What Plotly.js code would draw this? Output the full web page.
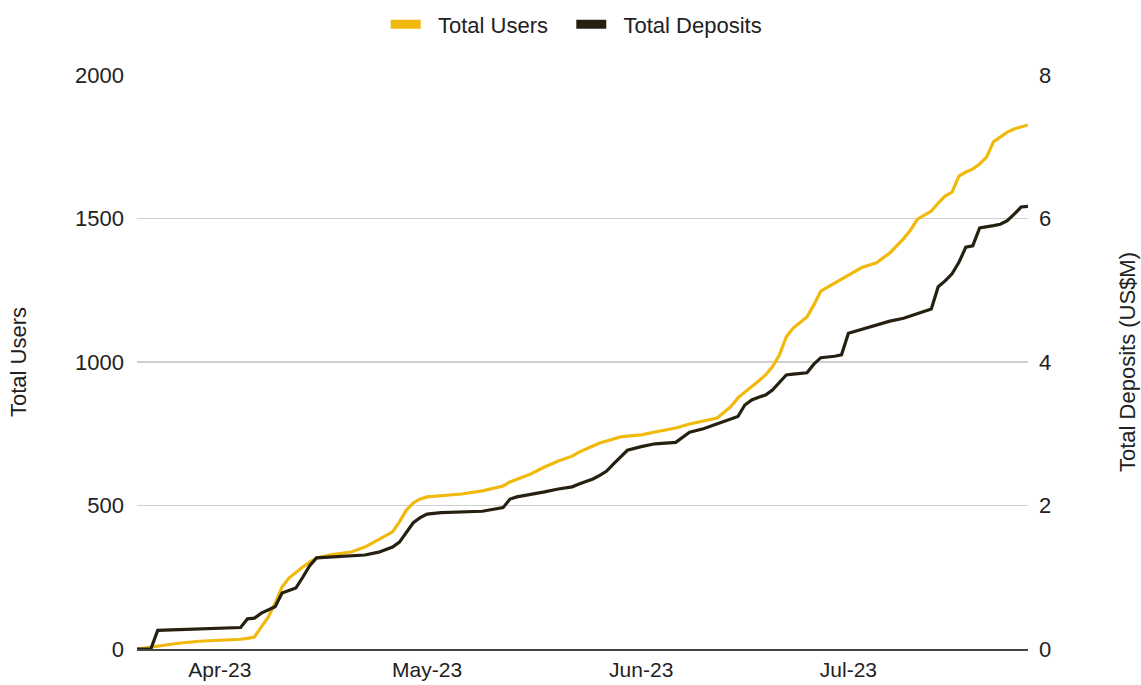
<!DOCTYPE html>
<html>
<head>
<meta charset="utf-8">
<script src="https://cdn.plot.ly/plotly-3.0.1.min.js"></script>
<style>html,body{margin:0;padding:0;background:#fff;}#chart{width:1141px;height:685px;}</style>
</head>
<body>
<div id="chart"></div>
<script>
const dates = ['2023-03-20','2023-03-22','2023-03-23','2023-03-26','2023-03-29','2023-04-01','2023-04-03','2023-04-04','2023-04-05','2023-04-06','2023-04-07','2023-04-08','2023-04-09','2023-04-10','2023-04-11','2023-04-12','2023-04-13','2023-04-14','2023-04-15','2023-04-17','2023-04-20','2023-04-22','2023-04-24','2023-04-26','2023-04-27','2023-04-28','2023-04-29','2023-04-30','2023-05-01','2023-05-03','2023-05-06','2023-05-09','2023-05-12','2023-05-13','2023-05-14','2023-05-16','2023-05-18','2023-05-20','2023-05-22','2023-05-23','2023-05-25','2023-05-26','2023-05-27','2023-05-28','2023-05-29','2023-05-30','2023-06-01','2023-06-03','2023-06-06','2023-06-08','2023-06-10','2023-06-12','2023-06-14','2023-06-15','2023-06-16','2023-06-17','2023-06-18','2023-06-19','2023-06-20','2023-06-21','2023-06-22','2023-06-23','2023-06-25','2023-06-26','2023-06-27','2023-06-29','2023-06-30','2023-07-01','2023-07-03','2023-07-05','2023-07-07','2023-07-09','2023-07-10','2023-07-11','2023-07-13','2023-07-14','2023-07-15','2023-07-16','2023-07-17','2023-07-18','2023-07-19','2023-07-20','2023-07-21','2023-07-22','2023-07-23','2023-07-24','2023-07-25','2023-07-26','2023-07-27'];

const totalUsers = [0,7,10,20,27,30,32,34,37,42,77,111,160,216,247,268,286,303,317,328,338,355,383,408,443,484,509,523,530,533,540,551,568,582,592,610,634,655,672,686,707,718,725,732,739,742,746,756,770,784,794,805,845,875,895,913,934,955,983,1024,1087,1118,1157,1199,1247,1275,1289,1303,1330,1345,1380,1430,1460,1498,1526,1554,1578,1592,1648,1662,1672,1690,1714,1767,1784,1801,1812,1819,1826];

const totalDeposits = [0,0,0.26,0.27,0.28,0.29,0.29,0.30,0.42,0.43,0.50,0.54,0.59,0.78,0.81,0.85,1.00,1.16,1.27,1.28,1.30,1.31,1.35,1.42,1.49,1.63,1.76,1.83,1.88,1.90,1.91,1.92,1.97,2.09,2.12,2.15,2.19,2.23,2.26,2.30,2.37,2.42,2.48,2.58,2.68,2.77,2.82,2.86,2.88,3.02,3.07,3.14,3.20,3.24,3.40,3.47,3.51,3.54,3.61,3.71,3.82,3.83,3.85,3.97,4.06,4.08,4.10,4.40,4.46,4.52,4.57,4.61,4.64,4.68,4.74,5.05,5.13,5.23,5.39,5.60,5.62,5.87,5.88,5.90,5.92,5.97,6.06,6.16,6.17];

const seriesNames = ['Total Users', 'Total Deposits'];
const userTicks = [0, 500, 1000, 1500, 2000];
const depositTicks = [0, 2, 4, 6, 8];

const YELLOW = '#F0B90B';
const DARK = '#262010';
const FONT = 'Liberation Sans, Arial, Helvetica, sans-serif';
const NB = '\u00A0';

const traces = [
  {x: dates, y: totalUsers, type: 'scatter', mode: 'lines', name: seriesNames[0],
   line: {color: YELLOW, width: 3.2}, showlegend: false, yaxis: 'y'},
  {x: dates, y: totalDeposits, type: 'scatter', mode: 'lines', name: seriesNames[1],
   line: {color: DARK, width: 3.2}, showlegend: false, yaxis: 'y2'},
  {x: [null], y: [null], type: 'scatter', mode: 'lines', name: NB + NB + seriesNames[0] + NB + NB + NB,
   line: {color: YELLOW, width: 9}, showlegend: true},
  {x: [null], y: [null], type: 'scatter', mode: 'lines', name: NB + NB + seriesNames[1],
   line: {color: DARK, width: 9}, showlegend: true}
];

const layout = {
  width: 1141, height: 685,
  margin: {l: 137, r: 113, t: 75, b: 36},
  paper_bgcolor: '#fff', plot_bgcolor: '#fff',
  font: {family: FONT, size: 22, color: '#222'},
  showlegend: true,
  legend: {orientation: 'h', xref: 'container', yref: 'container', x: 0.505, xanchor: 'center',
           y: 0.995, yanchor: 'top', font: {family: FONT, size: 22, color: '#222'}, itemwidth: 30},
  xaxis: {
    type: 'date', range: ['2023-03-20', '2023-07-27'],
    tickmode: 'linear', tick0: '2023-04-01', dtick: 'M1', tickformat: '%b-%y',
    showgrid: false, zeroline: false, ticks: '',
    showline: true, linecolor: '#444', linewidth: 2,
    ticklabelstandoff: 1,
    tickfont: {family: FONT, size: 21, color: '#222'}
  },
  yaxis: {
    range: [0, 2000], tickvals: userTicks, ticktext: userTicks.map(String),
    showgrid: true, gridcolor: '#cfcfcf', gridwidth: 1.5, zeroline: false,
    ticks: '', ticklabelstandoff: 12,
    tickfont: {family: FONT, size: 22, color: '#222'},
    title: {text: 'Total Users', font: {family: FONT, size: 22, color: '#222'}, standoff: 42}
  },
  yaxis2: {
    range: [0, 8], tickvals: depositTicks, ticktext: depositTicks.map(String),
    overlaying: 'y', side: 'right', showgrid: false, zeroline: false,
    ticks: '', ticklabelstandoff: 10,
    tickfont: {family: FONT, size: 22, color: '#222'},
    title: {text: 'Total Deposits (US$M)', font: {family: FONT, size: 22, color: '#222'}, standoff: 69}
  }
};

Plotly.newPlot('chart', traces, layout, {staticPlot: true, displayModeBar: false});
</script>
</body>
</html>
